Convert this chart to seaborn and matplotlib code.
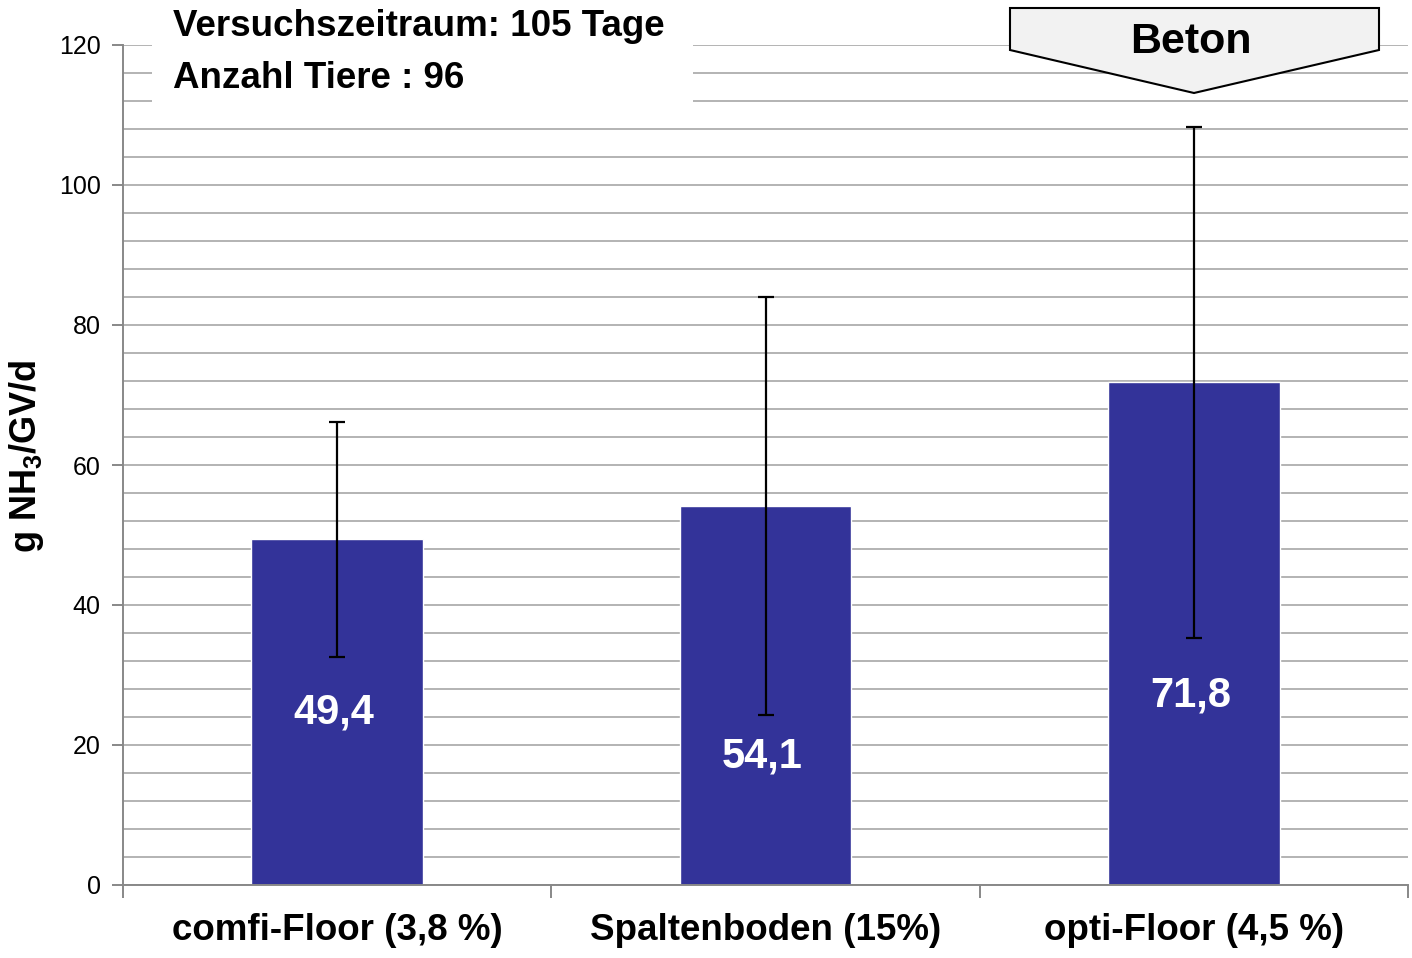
import numpy as np
import pandas as pd
import matplotlib
matplotlib.use("Agg")
import matplotlib.pyplot as plt
from matplotlib.patches import Rectangle, Polygon
import seaborn as sns

categories = ["comfi-Floor (3,8 %)", "Spaltenboden (15%)", "opti-Floor (4,5 %)"]
values = [49.4, 54.1, 71.8]
err_low = [32.6, 24.3, 35.3]
err_high = [66.1, 84.0, 108.3]
value_labels = ["49,4", "54,1", "71,8"]
label_y = [24.7, 18.3, 27.1]
y_ticks = [0, 20, 40, 60, 80, 100, 120]

sns.set_theme(style="white")
plt.rcParams["font.family"] = ["Liberation Sans", "DejaVu Sans"]
plt.rcParams["mathtext.fontset"] = "custom"
plt.rcParams["mathtext.rm"] = "Liberation Sans:bold"
plt.rcParams["mathtext.default"] = "rm"
plt.rcParams["text.color"] = "black"
plt.rcParams["axes.labelcolor"] = "black"
plt.rcParams["xtick.color"] = "black"
plt.rcParams["ytick.color"] = "black"

W, H = 1412, 958
fig = plt.figure(figsize=(W / 100, H / 100), dpi=100)
ax = fig.add_axes([123 / W, 1 - 885 / H, (1408 - 123) / W, (885 - 45) / H])

df = pd.DataFrame({"cat": categories, "val": values})
sns.barplot(data=df, x="cat", y="val", color="#333399", saturation=1, width=0.4, ax=ax, zorder=2)

xs = np.arange(len(categories))
v = np.array(values)
yerr = np.vstack([v - np.array(err_low), np.array(err_high) - v])
ax.errorbar(xs, v, yerr=yerr, fmt="none", ecolor="black", elinewidth=1.6, capsize=6, capthick=1.6, zorder=3)

for x, lab, ly in zip(xs, value_labels, label_y):
    ax.text(x - 0.008, ly, lab, color="white", fontsize=30, fontweight="bold", ha="center", va="center", zorder=4)

ax.set_ylim(0, 120)
ax.set_xlim(-0.5, 2.5)
ax.set_yticks(y_ticks)
ax.set_yticklabels([str(t) for t in y_ticks], fontsize=18)
ax.set_yticks(np.arange(0, 121, 4), minor=True)
ax.grid(True, axis="y", which="both", color="#b3b3b3", linewidth=1.4, zorder=0)
ax.set_axisbelow(True)

ax.set_xticks([-0.5, 0.5, 1.5, 2.5], minor=False)
ax.set_xticklabels([])
ax.set_xticks(xs, minor=True)
ax.set_xticklabels(categories, minor=True, fontsize=26.5, fontweight="bold")
ax.tick_params(axis="x", which="major", direction="out", length=9, width=1.4, color="#888888", bottom=True)
ax.tick_params(axis="x", which="minor", length=0, pad=20)
ax.tick_params(axis="y", which="major", direction="out", length=8, width=1.4, color="#888888", left=True, pad=8)
ax.tick_params(axis="y", which="minor", length=0)

for s in ["top", "right"]:
    ax.spines[s].set_visible(False)
for s in ["left", "bottom"]:
    ax.spines[s].set_color("#888888")
    ax.spines[s].set_linewidth(1.4)

ax.set_xlabel("")
ax.set_ylabel("g NH$_3$/GV/d", fontsize=26, fontweight="bold")
ax.yaxis.set_label_coords(-0.06, 0.51)

# white box behind annotation
fig.patches.append(Rectangle((152 / W, 1 - 112 / H), (693 - 152) / W, 112 / H,
                             transform=fig.transFigure, facecolor="white", edgecolor="none", zorder=5))
fig.text(173 / W, 1 - 27 / H, "Versuchszeitraum: 105 Tage", fontsize=26.5, fontweight="bold", va="center", ha="left", zorder=6)
fig.text(173 / W, 1 - 78 / H, "Anzahl Tiere : 96", fontsize=26.5, fontweight="bold", va="center", ha="left", zorder=6)

pts = [(1010, 8), (1379, 8), (1379, 50), (1194, 93), (1010, 50)]
fig.patches.append(Polygon([(px / W, 1 - py / H) for px, py in pts], closed=True, transform=fig.transFigure,
                           facecolor="#f2f2f2", edgecolor="black", linewidth=1.5, zorder=5))
fig.text(1191 / W, 1 - 42 / H, "Beton", fontsize=31, fontweight="bold", va="center", ha="center", zorder=6)

fig.savefig("out.png", dpi=100)
